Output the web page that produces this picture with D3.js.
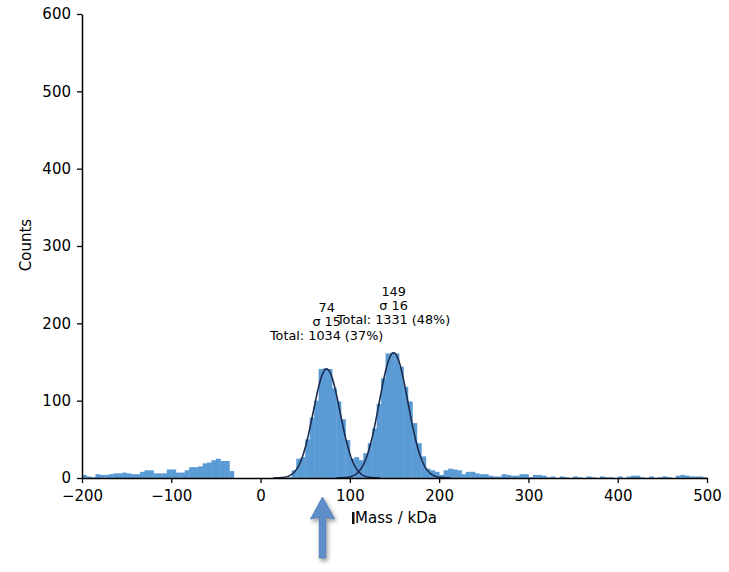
<!DOCTYPE html>
<html>
<head>
<meta charset="utf-8">
<script src="https://cdn.jsdelivr.net/npm/d3@7"></script>
<style>
  body { margin: 0; background: #fff; }
  svg { display: block; font-family: "DejaVu Sans", sans-serif; }
</style>
</head>
<body>
<svg class="hist"></svg>
<script>
const size = {w: 729, h: 572};
const margin = {top: 14, right: 22, bottom: 94, left: 82};

// histogram bins: left edge of each bin (kDa), 5 kDa wide
const binStart = -200, binWidth = 5;
// counts, one per bin from -200 to 495
const counts = [
  4, 2, 1, 5, 4, 4, 5, 6, 6, 7,          // -200 .. -155
  6, 5, 5, 8, 10, 10, 6, 6, 6, 11,       // -150 .. -105
  11, 7, 7, 10, 14, 14, 15, 19, 20, 23,  // -100 .. -55
  25, 22, 22, 9, 0, 0, 0, 0, 0, 0,       // -50 .. -5
  0, 0, 0, 0, 0, 0, 1, 10, 25, 27,       // 0 .. 45
  50, 78, 100, 141, 142, 141, 116, 99, 76, 49,     // 50 .. 95
  25, 27, 23, 32, 45, 64, 96, 129, 161, 162,       // 100 .. 145
  161, 144, 118, 99, 71, 45, 28, 12, 10, 8,        // 150 .. 195
  4, 10, 12, 11, 10, 5, 8, 8, 6, 5,      // 200 .. 245
  5, 3, 2, 2, 5, 4, 3, 3, 5, 5,          // 250 .. 295
  1, 4, 4, 3, 1, 2, 0, 2, 1, 0,          // 300 .. 345
  2, 1, 0, 2, 1, 0, 2, 1, 1, 0,          // 350 .. 395
  2, 0, 2, 3, 3, 1, 0, 2, 0, 1,          // 400 .. 445
  2, 1, 0, 3, 4, 3, 2, 2, 2, 1           // 450 .. 495
];

// gaussian fits
const fitMu = [74, 149];
const fitSigma = [15, 16];
const fitPeak = [141, 162];
const fitTotal = [1034, 1331];
const fitPct = [37, 48];

const xTicks = [-200, -100, 0, 100, 200, 300, 400, 500];
const yTicks = [0, 100, 200, 300, 400, 500, 600];

const svg = d3.select('svg.hist')
  .attr('width', size.w)
  .attr('height', size.h);

const x = d3.scaleLinear()
  .domain([-200, 500])
  .range([margin.left, size.w - margin.right]);

const y = d3.scaleLinear()
  .domain([0, 600])
  .range([size.h - margin.bottom, margin.top]);

const bins = counts.map((c, i) => ({x0: binStart + i * binWidth, x1: binStart + (i + 1) * binWidth, n: c}));

// bars
svg.append('g')
  .selectAll('rect')
  .data(bins.filter(d => d.n > 0))
  .join('rect')
  .attr('x', d => x(d.x0))
  .attr('width', d => x(d.x1) - x(d.x0) + 0.4)
  .attr('y', d => y(d.n))
  .attr('height', d => y(0) - y(d.n))
  .attr('fill', '#5b9bd5');

// fitted gaussian curves
const line = d3.line()
  .x(d => x(d[0]))
  .y(d => y(d[1]));

fitMu.forEach((mu, k) => {
  const s = fitSigma[k];
  const pts = d3.range(mu - 4 * s, mu + 4 * s + 0.5, 1)
    .map(v => [v, fitPeak[k] * Math.exp(-((v - mu) ** 2) / (2 * s * s))]);
  svg.append('path')
    .attr('d', line(pts))
    .attr('fill', 'none')
    .attr('stroke', '#1b2b4d')
    .attr('stroke-width', 1.6);
});

// labels above each peak
fitMu.forEach((mu, k) => {
  const base = y(fitPeak[k]) - 29;
  const lines = [String(mu), 'σ ' + fitSigma[k], `Total: ${fitTotal[k]} (${fitPct[k]}%)`];
  const t = svg.append('text')
    .attr('text-anchor', 'middle')
    .attr('font-size', '12.8px')
    .attr('fill', '#000');
  lines.forEach((s, i) => {
    t.append('tspan')
      .attr('x', x(mu))
      .attr('y', base - (lines.length - 1 - i) * 14)
      .text(s);
  });
});

// axes
const xAxis = svg.append('g')
  .attr('transform', `translate(0,${y(0)})`)
  .call(d3.axisBottom(x).tickValues(xTicks).tickSize(5).tickPadding(7).tickSizeOuter(0));

const yAxis = svg.append('g')
  .attr('transform', `translate(${x(-200)},0)`)
  .call(d3.axisLeft(y).tickValues(yTicks).tickSize(5).tickPadding(6).tickSizeOuter(0));

[xAxis, yAxis].forEach(g => {
  g.selectAll('text').attr('font-size', '15px').attr('font-family', '"DejaVu Sans", sans-serif').attr('fill', '#000');
  g.selectAll('line').attr('stroke', '#000').attr('stroke-width', 1.3);
  g.select('.domain').attr('stroke', '#000').attr('stroke-width', 1.5);
});

// axis titles
svg.append('text')
  .attr('x', 396)
  .attr('y', 523)
  .attr('text-anchor', 'middle')
  .attr('font-size', '15px')
  .text('Mass / kDa');

// little cursor bar left of the x title
svg.append('rect')
  .attr('x', 352)
  .attr('y', 512)
  .attr('width', 2.5)
  .attr('height', 12)
  .attr('fill', '#111');

svg.append('text')
  .attr('transform', 'translate(31,245) rotate(-90)')
  .attr('text-anchor', 'middle')
  .attr('font-size', '15px')
  .text('Counts');

// arrow pointing at the first peak
const defs = svg.append('defs');
const f = defs.append('filter').attr('id', 'shadow')
  .attr('x', '-50%').attr('y', '-50%').attr('width', '200%').attr('height', '200%');
f.append('feDropShadow')
  .attr('dx', 1.5).attr('dy', 2.5)
  .attr('stdDeviation', 2)
  .attr('flood-color', '#000')
  .attr('flood-opacity', 0.45);

const ax = 322.5;
svg.append('path')
  .attr('d', `M${ax},497 L${ax + 12},519 L${ax + 3.2},517 L${ax + 3.2},558 L${ax - 3.2},558 L${ax - 3.2},517 L${ax - 12},519 Z`)
  .attr('fill', '#5d8ec9')
  .attr('stroke', '#4a78b2')
  .attr('stroke-width', 0.8)
  .attr('stroke-linejoin', 'round')
  .attr('filter', 'url(#shadow)');
</script>
</body>
</html>
